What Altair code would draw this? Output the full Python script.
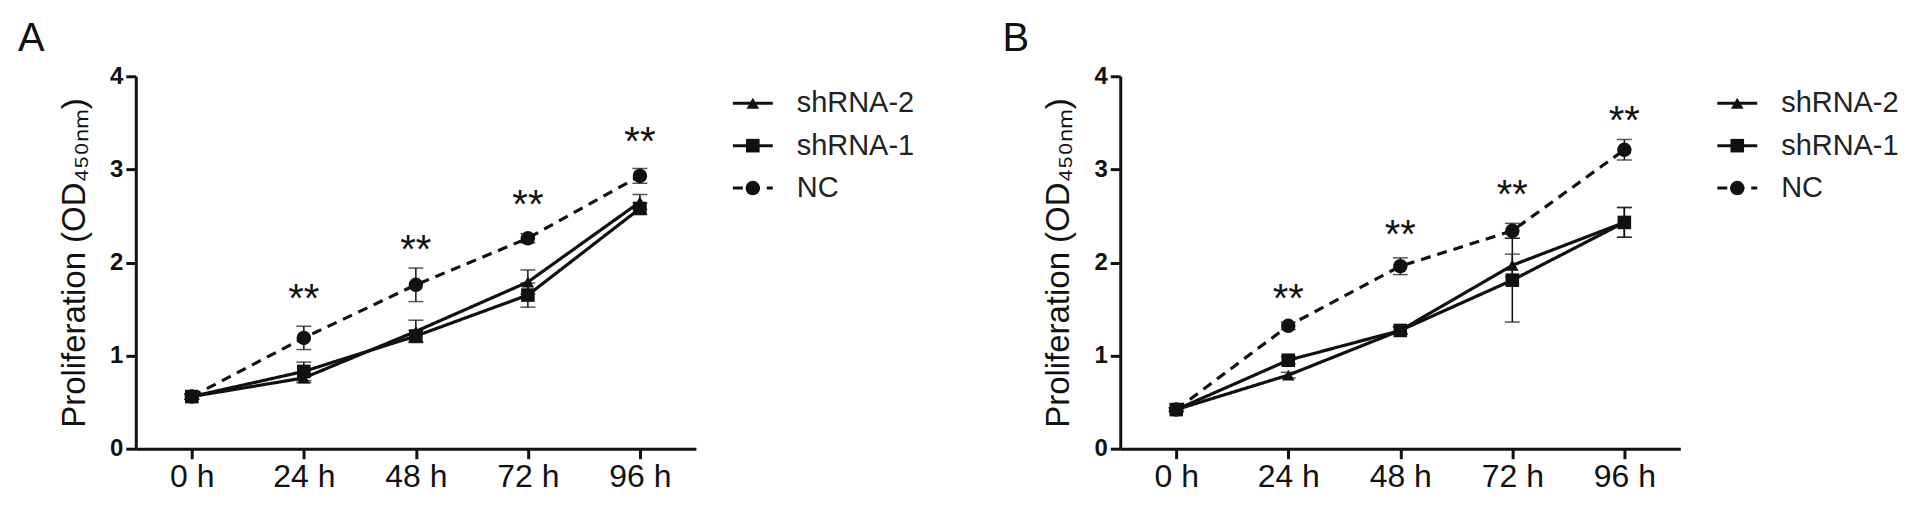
import altair as alt
import pandas as pd

times = ['0 h', '24 h', '48 h', '72 h', '96 h']
series_names = ['shRNA-2', 'shRNA-1', 'NC']

# Panel A
a_sh2 = [0.56, 0.76, 1.26, 1.79, 2.65]
a_sh2_err = [0.03, 0.05, 0.12, 0.13, 0.08]
a_sh1 = [0.56, 0.83, 1.21, 1.65, 2.58]
a_sh1_err = [0.03, 0.10, 0.06, 0.13, 0.06]
a_nc = [0.56, 1.19, 1.76, 2.26, 2.93]
a_nc_err = [0.03, 0.125, 0.18, 0.05, 0.08]
a_star = [1.71, 2.24, 2.72, 3.40]

# Panel B
b_sh2 = [0.42, 0.79, 1.27, 1.97, 2.43]
b_sh2_err = [0.02, 0.03, 0.04, 0.12, 0.16]
b_sh1 = [0.42, 0.95, 1.27, 1.81, 2.43]
b_sh1_err = [0.02, 0.04, 0.04, 0.45, 0.16]
b_nc = [0.42, 1.32, 1.96, 2.34, 3.21]
b_nc_err = [0.02, 0.04, 0.09, 0.08, 0.11]
b_star = [1.72, 2.40, 2.83, 3.63]

star_times = ['24 h', '48 h', '72 h', '96 h']

FONT = 'Liberation Sans'
INK = '#111111'


def build(sh2, sh2e, sh1, sh1e, nc, nce):
    rows = []
    for name, vals, errs in [('NC', nc, nce), ('shRNA-2', sh2, sh2e), ('shRNA-1', sh1, sh1e)]:
        for t, v, e in zip(times, vals, errs):
            rows.append(dict(series=name, time=t, value=v, lo=v - e, hi=v + e))
    return pd.DataFrame(rows)


dash_scale = alt.Scale(domain=series_names, range=[[1, 0], [1, 0], [10, 7]])
shape_scale = alt.Scale(domain=series_names, range=['triangle-up', 'square', 'circle'])
size_scale = alt.Scale(domain=series_names, range=[160, 210, 190])


def panel(df, stars, label):
    x = alt.X('time:O', sort=times,
              scale=alt.Scale(domain=times, type='point', padding=0.5),
              axis=alt.Axis(labelAngle=0, labelFontSize=32, labelFont=FONT, labelColor=INK,
                            labelPadding=3, tickSize=10, tickWidth=3, domainWidth=3,
                            domainColor=INK, tickColor=INK, grid=False),
              title=None)
    y = alt.Y('value:Q', scale=alt.Scale(domain=[0, 4], nice=False),
              axis=alt.Axis(values=[0, 1, 2, 3, 4], format='d', labelFontSize=24,
                            labelFontWeight='bold',
                            labelFont=FONT, labelColor=INK, labelPadding=3, tickSize=10,
                            tickWidth=3, domainWidth=3, domainColor=INK, tickColor=INK,
                            grid=False, titleFont=FONT, titleFontSize=33,
                            titleFontWeight='normal', titleColor=INK, titlePadding=18),
              title='Proliferation (OD₄₅₀ₙₘ)')
    base = alt.Chart(df)
    err = base.mark_rule(color=INK, strokeWidth=1.5).encode(
        x=x, y=alt.Y('lo:Q'), y2='hi:Q')
    cap_lo = base.mark_tick(color=INK, thickness=1.5, size=15).encode(x=x, y='lo:Q')
    cap_hi = base.mark_tick(color=INK, thickness=1.5, size=15).encode(x=x, y='hi:Q')
    line = base.mark_line(color=INK, strokeWidth=3.2).encode(
        x=x, y=y, detail='series:N',
        strokeDash=alt.StrokeDash('series:N', scale=dash_scale, legend=None))
    pts = base.mark_point(filled=True, opacity=1, color=INK).encode(
        x=x, y='value:Q',
        shape=alt.Shape('series:N', scale=shape_scale, legend=None),
        size=alt.Size('series:N', scale=size_scale, legend=None))
    sdf = pd.DataFrame({'time': star_times, 'star': stars})
    st = alt.Chart(sdf).mark_text(text='**', fontSize=40, font=FONT, color=INK,
                                  baseline='alphabetic', dy=23).encode(
        x=x, y='star:Q')
    ldf = pd.DataFrame({'label': [label]})
    lab = alt.Chart(ldf).mark_text(fontSize=40, font=FONT, color=INK, align='left',
                                   baseline='alphabetic').encode(
        x=alt.value(-118), y=alt.value(-25), text='label:N')
    return alt.layer(err, cap_lo, cap_hi, line, pts, st, lab).properties(width=561, height=373)


def legend_chart(width):
    ldf = pd.DataFrame({'series': series_names, 'row': [0, 1, 2]})
    yenc = alt.Y('row:Q', scale=alt.Scale(domain=[0, 2], range=[27, 112]), axis=None)
    base = alt.Chart(ldf)
    rule = base.mark_rule(color=INK, strokeWidth=3).encode(
        x=alt.value(37), x2=alt.value(77), y=yenc,
        strokeDash=alt.StrokeDash('series:N', scale=dash_scale, legend=None))
    pts = base.mark_point(filled=True, opacity=1, color=INK).encode(
        x=alt.value(57), y=yenc,
        shape=alt.Shape('series:N', scale=shape_scale, legend=None),
        size=alt.Size('series:N', scale=alt.Scale(domain=series_names, range=[110, 160, 170]), legend=None))
    txt = base.mark_text(align='left', baseline='middle', fontSize=29, font=FONT, color='#222222').encode(
        x=alt.value(101), y=yenc, text='series:N')
    return alt.layer(rule, pts, txt).properties(width=width, height=373)


dfA = build(a_sh2, a_sh2_err, a_sh1, a_sh1_err, a_nc, a_nc_err)
dfB = build(b_sh2, b_sh2_err, b_sh1, b_sh1_err, b_nc, b_nc_err)

chart = alt.hconcat(
    panel(dfA, a_star, 'A'),
    legend_chart(425),
    panel(dfB, b_star, 'B'),
    legend_chart(220),
    spacing=0, bounds='flush'
).properties(
    padding={'left': 10, 'top': 11, 'right': 5, 'bottom': 5}
).configure(background='white', view=alt.ViewConfig(stroke=None))

chart.save('out.html', embed_options={'renderer': 'svg', 'actions': False})
